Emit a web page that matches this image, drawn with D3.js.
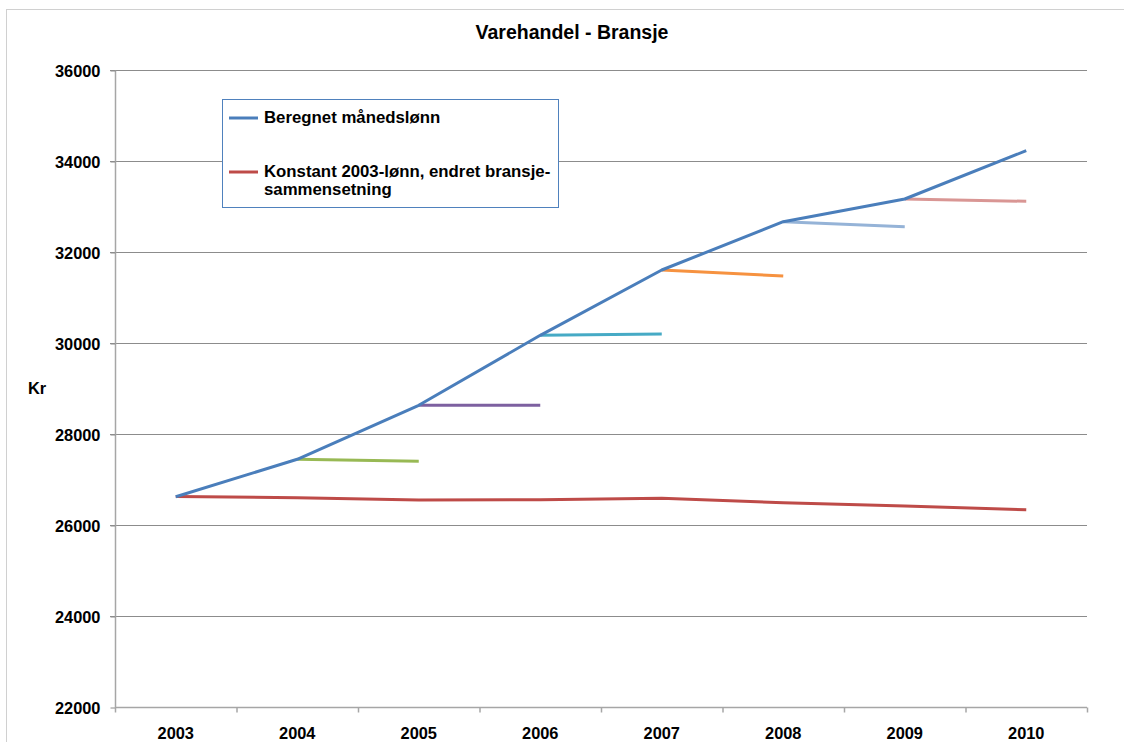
<!DOCTYPE html>
<html>
<head>
<meta charset="utf-8">
<script src="https://cdn.jsdelivr.net/npm/d3@7"></script>
<style>
    body { margin: 0; background: #fff; }
    text { font-family: "Liberation Sans", Arial, sans-serif; font-weight: bold; fill: #000; }
</style>
</head>
<body>
<svg id="chart" width="1124" height="742"></svg>
<script>

// data
const years = ["2003", "2004", "2005", "2006", "2007", "2008", "2009", "2010"];
const beregnet = [26622, 27444, 28631, 30169, 31604, 32666, 33165, 34227];
const konstant = [26625, 26600, 26549, 26556, 26587, 26490, 26418, 26336];

// one-year segments: start year index, start value, end value
const segStart = [1, 2, 3, 4, 5, 6];
const segFrom = [27444, 28631, 30169, 31604, 32666, 33165];
const segTo = [27400, 28631, 30198, 31473, 32557, 33114];
const segColors = ["#98b954", "#7d60a0", "#46aac5", "#f69240", "#95b3d7", "#d99694"];

const yTicks = [22000, 24000, 26000, 28000, 30000, 32000, 34000, 36000];
const legendLabels = [["Beregnet månedslønn"], ["Konstant 2003-lønn, endret bransje-", "sammensetning"]];
const seriesColors = ["#4a7ebb", "#be4b48"];

const plot = { left: 115, right: 1087, top: 70, bottom: 707 };

const svg = d3.select("#chart");

// outer frame
svg.append("rect")
    .attr("x", 6.5).attr("y", 9.5)
    .attr("width", 1130).attr("height", 750)
    .style("fill", "none")
    .style("stroke", "#d0d0d0")
    .style("stroke-width", 1);

const x = d3.scaleBand().domain(years).range([plot.left, plot.right]);
const y = d3.scaleLinear().domain([22000, 36000]).range([plot.bottom, plot.top]);
const cx = d => x(d) + x.bandwidth() / 2;

//
// GRID + AXES
//

svg.append("g")
    .attr("class", "grid")
    .selectAll("line")
    .data(yTicks.slice(1))
    .enter().append("line")
        .attr("x1", plot.left - 5)
        .attr("x2", plot.right)
        .attr("y1", d => Math.round(y(d)) + 0.5)
        .attr("y2", d => Math.round(y(d)) + 0.5)
        .style("stroke", "#8c8c8c")
        .style("stroke-width", 1);

const yAxis = svg.append("g")
    .attr("transform", `translate(${plot.left + 0.5}, 0.5)`)
    .call(d3.axisLeft(y).tickValues(yTicks).tickSize(5).tickPadding(10).tickFormat(d3.format("d")));
yAxis.select(".domain").style("stroke", "#a6a6a6").style("stroke-width", 1.5).attr("d", `M0,${plot.top}V${plot.bottom}`);
yAxis.selectAll(".tick line").style("stroke", "#8c8c8c");
yAxis.selectAll("text").style("font-size", "16.4px").attr("dy", "0.36em");

const xAxis = svg.append("g")
    .attr("transform", `translate(0, ${plot.bottom + 0.5})`)
    .call(d3.axisBottom(x).tickSize(0).tickPadding(20));
xAxis.select(".domain").style("stroke", "#a6a6a6").style("stroke-width", 1.5).attr("d", `M${plot.left},0H${plot.right}`);
xAxis.selectAll("text").style("font-size", "16.4px");

// x tick marks sit on band edges
xAxis.selectAll(".edge")
    .data(years.concat(["end"]))
    .enter().append("line")
        .attr("class", "edge")
        .attr("x1", (d, i) => plot.left + i * x.bandwidth() + 0.5)
        .attr("x2", (d, i) => plot.left + i * x.bandwidth() + 0.5)
        .attr("y1", 0).attr("y2", 5)
        .style("stroke", "#a6a6a6")
        .style("stroke-width", 1.5);

//
// SERIES
//

const line = d3.line()
    .x((d, i) => cx(years[i]))
    .y(d => y(d));

svg.append("path")
    .datum(konstant)
    .attr("fill", "none")
    .attr("stroke", seriesColors[1])
    .attr("stroke-width", 3)
    .attr("stroke-linejoin", "round")
    .attr("d", line);

svg.append("g")
    .attr("id", "segments")
    .selectAll("line")
    .data(segStart)
    .enter().append("line")
        .attr("x1", d => cx(years[d]))
        .attr("x2", d => cx(years[d + 1]))
        .attr("y1", (d, i) => y(segFrom[i]))
        .attr("y2", (d, i) => y(segTo[i]))
        .style("stroke", (d, i) => segColors[i])
        .style("stroke-width", 3);

// blue on top so the segment starts sit under it
svg.append("path")
    .datum(beregnet)
    .attr("fill", "none")
    .attr("stroke", seriesColors[0])
    .attr("stroke-width", 3)
    .attr("stroke-linejoin", "round")
    .attr("d", line);

//
// TEXTS
//

svg.append("text")
    .attr("x", 572).attr("y", 39)
    .style("font-size", "19.5px")
    .style("text-anchor", "middle")
    .text("Varehandel - Bransje");

svg.append("text")
    .attr("x", 28).attr("y", 394)
    .style("font-size", "16.4px")
    .text("Kr");

//
// LEGEND
//

const legend = svg.append("g").attr("id", "legend");

legend.append("rect")
    .attr("x", 222.5).attr("y", 99.5)
    .attr("width", 336).attr("height", 108)
    .style("fill", "#fff")
    .style("stroke", "#4f81bd")
    .style("stroke-width", 1);

const legendY = [118, 172];
legendLabels.forEach((lines, k) => {
    legend.append("line")
        .attr("x1", 229).attr("x2", 258)
        .attr("y1", legendY[k]).attr("y2", legendY[k])
        .style("stroke", seriesColors[k])
        .style("stroke-width", 3);
    lines.forEach((t, j) => {
        legend.append("text")
            .attr("x", 264)
            .attr("y", legendY[k] + 5 + j * 18)
            .style("font-size", "16.8px")
            .text(t);
    });
});

</script>
</body>
</html>
